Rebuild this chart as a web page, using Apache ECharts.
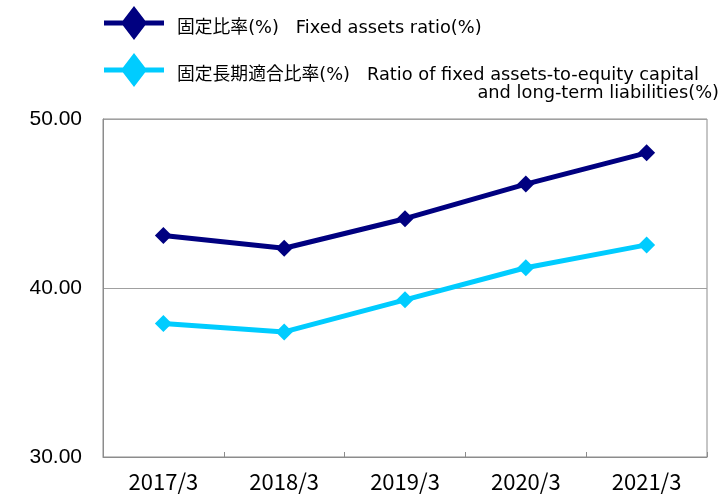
<!DOCTYPE html>
<html>
<head>
<meta charset="utf-8">
<script src="https://cdn.jsdelivr.net/npm/echarts@6/dist/echarts.min.js"></script>
<style>
  html, body { margin: 0; padding: 0; background: #fff; }
  #ratio-chart { width: 722px; height: 497px; }
</style>
</head>
<body>
<div id="ratio-chart"></div>
<script>
// 年度
const categories = ["2017/3", "2018/3", "2019/3", "2020/3", "2021/3"];
// 固定比率(%)
const fixedRatio = [43.1, 42.35, 44.1, 46.15, 48.0];
// 固定長期適合比率(%)
const longTermRatio = [37.9, 37.4, 39.3, 41.2, 42.55];
const yTicks = [30, 40, 50];

const nameFixed = "固定比率(%)   Fixed assets ratio(%)";
const nameLong = "固定長期適合比率(%)   Ratio of fixed assets-to-equity capital";

// 凡例アイコン（線＋ひし形）
const legendIcon = "path://M0,14.5H60V19.5H0Z M30,0L43,17L30,34L17,17Z";
const legendFont = "'DejaVu Sans', 'Noto Sans CJK JP', sans-serif";

let myChart = echarts.init(document.getElementById("ratio-chart"));
myChart.setOption({
  animation: false,
  legend: {
    orient: "vertical",
    left: 104,
    top: 6,
    padding: 0,
    itemWidth: 60,
    itemHeight: 34,
    itemGap: 13,
    selectedMode: false,
    data: [
      { name: nameFixed, icon: legendIcon },
      { name: nameLong, icon: legendIcon },
    ],
    formatter: (name) => "{t|" + name + "}",
    textStyle: {
      padding: [0, 0, 0, 8],
      rich: {
        t: {
          fontSize: 17.8,
          fontFamily: legendFont,
          color: "#000",
          padding: [10, 0, 0, 0],
        },
      },
    },
  },
  graphic: [
    {
      type: "text",
      right: 3,
      top: 84,
      style: {
        text: "and long-term liabilities(%)",
        font: "17.8px " + legendFont,
        fill: "#000",
      },
    },
  ],
  grid: {
    left: 103,
    right: 15,
    top: 119,
    bottom: 40,
    show: true,
    borderColor: "#8c8c8c",
    borderWidth: 1,
  },
  xAxis: {
    type: "category",
    data: categories,
    boundaryGap: true,
    axisLine: { lineStyle: { color: "#8c8c8c" } },
    axisTick: { show: true, inside: true, length: 5, lineStyle: { color: "#8c8c8c" } },
    axisLabel: {
      fontSize: 22,
      fontFamily: "'Noto Sans CJK JP', sans-serif",
      color: "#000",
      margin: 14,
    },
  },
  yAxis: {
    type: "value",
    min: yTicks[0],
    max: yTicks[yTicks.length - 1],
    interval: yTicks[1] - yTicks[0],
    axisLine: { show: true, lineStyle: { color: "#8c8c8c" } },
    axisTick: { show: false },
    splitLine: { lineStyle: { color: "#a0a0a0" } },
    axisLabel: {
      formatter: (v) => v.toFixed(2),
      fontSize: 21,
      fontFamily: "'Liberation Sans', Arial, sans-serif",
      color: "#000",
      margin: 21,
    },
  },
  series: [
    {
      name: nameFixed,
      type: "line",
      data: fixedRatio,
      symbol: "diamond",
      symbolSize: 17,
      lineStyle: { color: "#000080", width: 5 },
      itemStyle: { color: "#000080" },
      z: 3,
    },
    {
      name: nameLong,
      type: "line",
      data: longTermRatio,
      symbol: "diamond",
      symbolSize: 17,
      lineStyle: { color: "#00ccff", width: 5 },
      itemStyle: { color: "#00ccff" },
      z: 2,
    },
  ],
});
</script>
</body>
</html>
